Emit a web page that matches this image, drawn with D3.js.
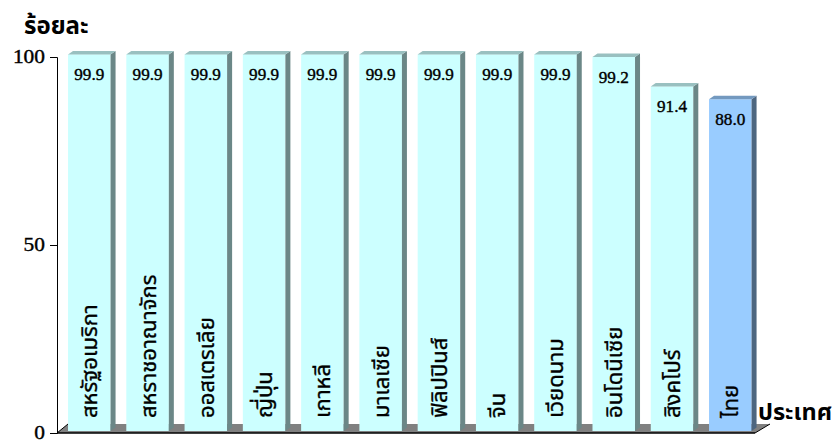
<!DOCTYPE html>
<html><head><meta charset="utf-8">
<script src="https://cdn.jsdelivr.net/npm/d3@7"></script>
<style>
html,body{margin:0;padding:0;background:#fff}
svg{display:block}
.num{font-family:"Liberation Serif",serif;font-weight:400;fill:#000;stroke:#000;stroke-width:.4px}
.th{font-family:"Noto Sans","Noto Sans Thai","Liberation Sans",sans-serif;fill:#000}
</style></head><body>
<svg id="c" width="834" height="443"></svg>
<script>
const categories=["สหรัฐอเมริกา","สหราชอาณาจักร","ออสเตรเลีย","ญี่ปุ่น","เกาหลี","มาเลเซีย","ฟิลิปปินส์","จีน","เวียดนาม","อินโดนีเซีย","สิงคโปร์","ไทย"];
const values=[99.9,99.9,99.9,99.9,99.9,99.9,99.9,99.9,99.9,99.2,91.4,88.0];
const valueLabels=["99.9","99.9","99.9","99.9","99.9","99.9","99.9","99.9","99.9","99.2","91.4","88.0"];
const yTicks=[0,50,100];
const yTitle="ร้อยละ";
const xTitle="ประเทศ";
const highlight="ไทย";

const svg=d3.select("#c");
const x=d3.scaleBand().domain(categories).range([58.7,760.9]).paddingInner(0.27).paddingOuter(0.16);
const yFront=d3.scaleLinear().domain([0,100]).range([431,54]);
const yAxisS=d3.scaleLinear().domain([0,100]).range([433,57]);
const dx=5,dy=3.5;

// floor
svg.append("path").attr("d","M57,433L68,424L770,424L755,433Z").attr("fill","#808080");
svg.append("path").attr("d","M57,433L68,424").attr("stroke","#000").attr("stroke-width",1).attr("fill","none");
svg.append("path").attr("d","M755,433L770,424").attr("stroke","#000").attr("stroke-width",1).attr("fill","none");

// bars
const g=svg.selectAll("g.bar").data(categories.map((c,i)=>({c,v:values[i],l:valueLabels[i]}))).join("g").attr("class","bar");
const col=d=>d.c===highlight?{f:"#99CCFF",s:"#4D6680",t:"#7399BF"}:{f:"#CCFFFF",s:"#6B8787",t:"#99C0C0"};
g.append("rect").attr("x",d=>x(d.c)).attr("y",d=>yFront(d.v)).attr("width",x.bandwidth()).attr("height",d=>yFront(0)-yFront(d.v)).attr("fill",d=>col(d).f);
g.append("path").attr("fill",d=>col(d).s).attr("d",d=>{const r=x(d.c)+x.bandwidth(),t=yFront(d.v),b=yFront(0);return `M${r},${t}L${r+dx},${t-dy}L${r+dx},${b-dy}L${r},${b}Z`;});
g.append("path").attr("fill",d=>col(d).t).attr("d",d=>{const l=x(d.c),r=l+x.bandwidth(),t=yFront(d.v);return `M${l},${t}L${l+dx},${t-dy}L${r+dx},${t-dy}L${r},${t}Z`;});
g.append("text").attr("class","num").attr("x",d=>x(d.c)+x.bandwidth()/2).attr("y",d=>yFront(d.v)+26).attr("text-anchor","middle").attr("font-size",17).attr("textLength",30).attr("lengthAdjust","spacingAndGlyphs").text(d=>d.l);
g.append("text").attr("class","th").attr("font-size",22).attr("stroke","#000").attr("stroke-width",.35).attr("text-anchor","start")
 .attr("transform",d=>`translate(${x(d.c)+x.bandwidth()/2+8},418) rotate(-90)`).text(d=>d.c);

// axes
const ax=d3.axisLeft(yAxisS).tickValues(yTicks).tickSize(7).tickPadding(5).tickFormat(d3.format("d"));
const ag=svg.append("g").attr("transform","translate(57,0)").call(ax);
ag.selectAll("path,line").attr("stroke","#000").attr("stroke-width",1);
ag.selectAll("text").attr("class","num").attr("font-size",19.5).attr("dy","0.28em").attr("textLength",d=>String(d).length*10.7).attr("lengthAdjust","spacingAndGlyphs");
svg.append("line").attr("x1",57).attr("x2",755).attr("y1",433).attr("y2",433).attr("stroke","#000").attr("stroke-width",1.5);

svg.append("text").attr("class","th").attr("x",24).attr("y",34).attr("font-size",24).attr("font-weight",700).text(yTitle);
svg.append("text").attr("class","th").attr("x",758).attr("y",420).attr("font-size",23.5).attr("font-weight",700).text(xTitle);
</script></body></html>
